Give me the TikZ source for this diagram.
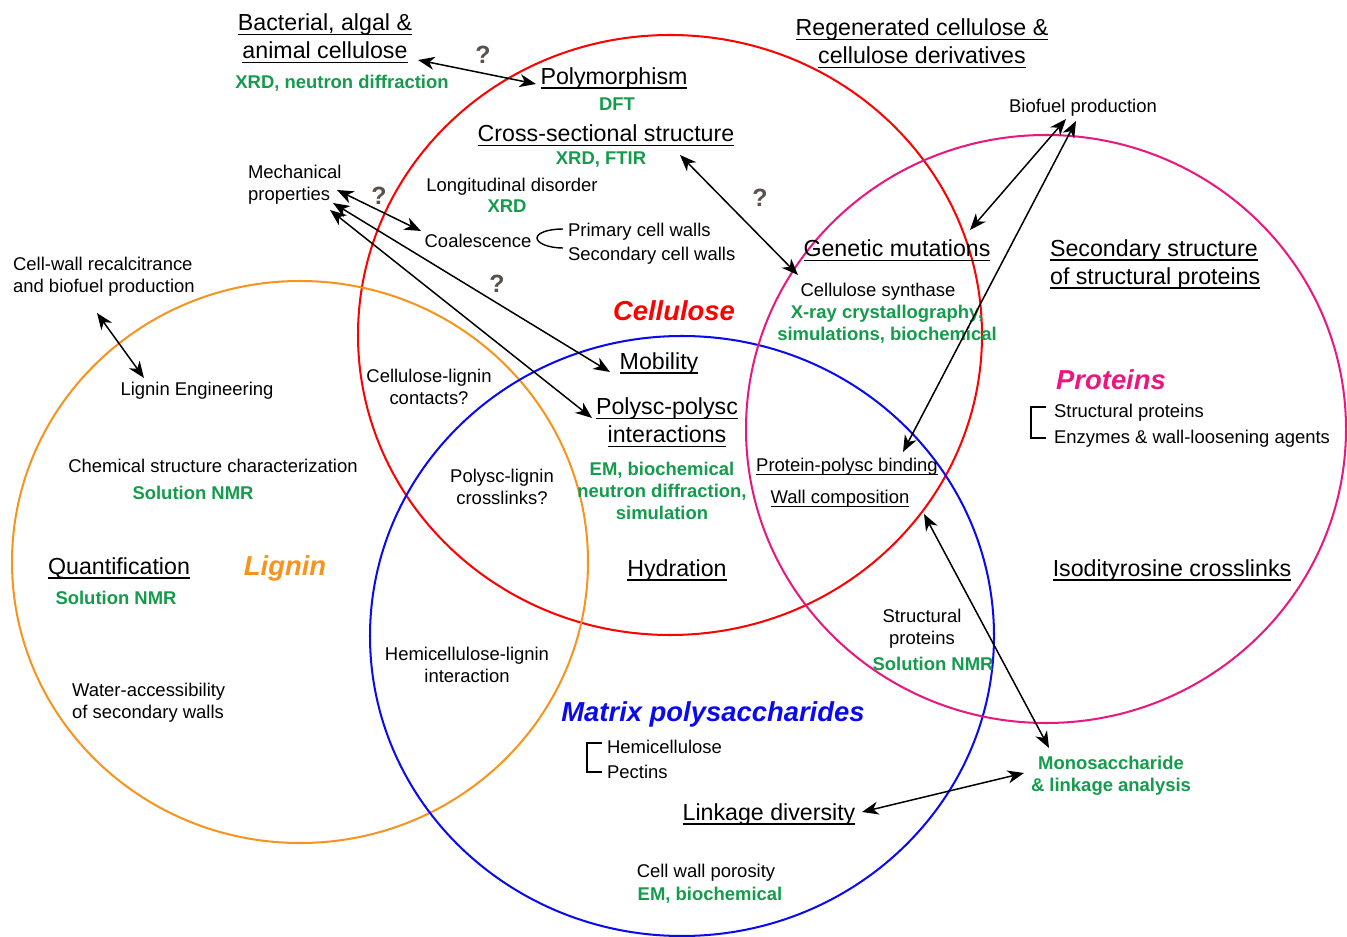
\documentclass[tikz,border=0pt]{standalone}
\usepackage{fontspec}
\setmainfont{Liberation Sans}
\usetikzlibrary{arrows.meta,calc}
\definecolor{cellred}{RGB}{255,0,0}
\definecolor{ligorange}{RGB}{247,148,29}
\definecolor{matblue}{RGB}{10,10,240}
\definecolor{protmag}{RGB}{232,24,128}
\definecolor{techgreen}{RGB}{20,155,75}
\definecolor{qgray}{RGB}{90,80,75}
\newcommand{\uln}[1]{\leavevmode\setbox0\hbox{#1}\rlap{\rule[-2.3pt]{\wd0}{0.75pt}}\box0}

\begin{document}
\begin{tikzpicture}[x=0.2mm, y=-0.2mm,
        lbl/.style={font=\fontsize{10.5}{12.5}\selectfont, align=center, inner sep=1pt, yshift=-0.5mm},
        hd/.style={font=\fontsize{13.2}{15.9}\selectfont, align=center, inner sep=1pt, yshift=-0.5mm},
        tech/.style={font=\fontsize{10.5}{12.5}\selectfont\bfseries, text=techgreen, align=center, inner sep=1pt, yshift=-0.5mm},
        cat/.style={font=\fontsize{15.6}{18}\selectfont\bfseries\itshape, inner sep=1pt, yshift=-0.3mm},
        qmark/.style={font=\fontsize{14.2}{16}\selectfont\bfseries, text=qgray, inner sep=1pt},
        dbl/.style={{Stealth[length=3.3mm,width=2.6mm,inset=1mm]}-{Stealth[length=3.3mm,width=2.6mm,inset=1mm]}, line width=0.85pt},
        ring/.style={line width=1.15pt}]
        \useasboundingbox (0,0) rectangle (1347,937);
        % the four components
        \foreach \cx/\cy/\rx/\ry/\col in {670/335/312/300/cellred, 300/562/288/281/ligorange, 682/636/312/300/matblue, 1046/429/300/294/protmag}
        \draw[ring, \col] (\cx,\cy) ellipse [x radius=\rx, y radius=\ry];
        % top
        \node[hd] (bact) at (325,36) {\uln{Bacterial, algal \&}\\\uln{animal cellulose}};
        \node[tech] (bactm) at (342,81) {XRD, neutron diffraction};
        \node[qmark] (q1) at (483,55) {?};
        \node[hd] (poly) at (614,76) {\uln{Polymorphism}};
        \node[tech] (polym) at (617,102) {DFT};
        \node[hd] (cross) at (606,133) {\uln{Cross-sectional structure}};
        \node[tech] (crossm) at (601,157) {XRD, FTIR};
        \node[hd] (regen) at (922,41) {\uln{Regenerated cellulose \&}\\\uln{cellulose derivatives}};
        \node[lbl] (bio) at (1083,105) {Biofuel production};
        % cellulose
        \node[lbl, align=left, anchor=west] (mech) at (246,182) {Mechanical\\properties};
        \node[qmark] (q2) at (379,196) {?};
        \node[lbl] (longi) at (512,184) {Longitudinal disorder};
        \node[tech] (longim) at (507,204) {XRD};
        \node[lbl] (coal) at (478,238) {Coalescence};
        \node[lbl, anchor=west] (prim) at (566,229) {Primary cell walls};
        \node[lbl, anchor=west] (secw) at (566,253) {Secondary cell walls};
        \draw[line width=0.8pt] (563,229) .. controls (548,229) and (537,233) .. (537,238) .. controls (537,243) and (548,248) .. (563,248);
        \node[qmark] (q3) at (497,284) {?};
        \node[qmark] (q4) at (760,198) {?};
        \node[hd] (gen) at (897,248) {\uln{Genetic mutations}};
        \node[lbl] (synth) at (878,289) {Cellulose synthase};
        \node[tech] (synthm) at (887,322) {X-ray crystallography,\\simulations, biochemical};
        \node[cat, text=cellred] (cell) at (674,309) {Cellulose};
        \node[lbl] (clc) at (429,384) {Cellulose-lignin\\contacts?};
        \node[hd] (mob) at (659,361) {\uln{Mobility}};
        \node[hd] (pp) at (667,420) {\uln{Polysc-polysc}\\\uln{interactions}};
        \node[tech] (ppm) at (662,488) {EM, biochemical\\neutron diffraction,\\simulation};
        \node[lbl] (plc) at (502,484) {Polysc-lignin\\crosslinks?};
        \node[hd] (hydr) at (677,568) {\uln{Hydration}};
        % proteins
        \node[hd, align=left, anchor=west] (secstr) at (1048,262) {\uln{Secondary structure}\\\uln{of structural proteins}};
        \node[cat, text=protmag] (prot) at (1111,378) {Proteins};
        \node[lbl, anchor=west] (sprot) at (1052,410) {Structural proteins};
        \node[lbl, anchor=west] (enz) at (1052,436) {Enzymes \& wall-loosening agents};
        \draw[line width=0.8pt] (1046,407) -- (1031,407) -- (1031,438) -- (1046,438);
        \node[lbl] (ppb) at (847,464) {\uln{Protein-polysc binding}};
        \node[lbl] (wallc) at (840,496) {\uln{Wall composition}};
        \node[hd] (iso) at (1172,568) {\uln{Isodityrosine crosslinks}};
        \node[lbl] (strp) at (922,626) {Structural\\proteins};
        \node[tech] (strpm) at (933,661) {Solution NMR};
        % lignin
        \node[lbl, align=left, anchor=west] (recal) at (11,274) {Cell-wall recalcitrance\\and biofuel production};
        \node[lbl] (ligeng) at (197,388) {Lignin Engineering};
        \node[lbl] (chem) at (213,463) {Chemical structure characterization};
        \node[tech] (chemm) at (193,490) {Solution NMR};
        \node[hd] (quant) at (119,566) {\uln{Quantification}};
        \node[tech] (quantm) at (116,595) {Solution NMR};
        \node[cat, text=ligorange] (lig) at (285,567) {Lignin};
        \node[lbl, align=left, anchor=west] (water) at (70,700) {Water-accessibility\\of secondary walls};
        % matrix polysaccharides
        \node[lbl] (hemil) at (467,662) {Hemicellulose-lignin\\interaction};
        \node[cat, text=matblue] (mat) at (713,713) {Matrix polysaccharides};
        \node[lbl, anchor=west] (hemi) at (605,744) {Hemicellulose};
        \node[lbl, anchor=west] (pect) at (605,769) {Pectins};
        \draw[line width=0.8pt] (602,743) -- (587,743) -- (587,772) -- (602,772);
        \node[hd] (link) at (769,812) {\uln{Linkage diversity}};
        \node[lbl] (poro) at (706,870) {Cell wall porosity};
        \node[tech] (porom) at (710,893) {EM, biochemical};
        \node[tech] (mono) at (1111,773) {Monosaccharide\\\& linkage analysis};
        % arrows
        \draw[dbl] ($(bact)+(93,21.5)$) -- ($(poly)+(-78,5.5)$);
        \draw[dbl] ($(mech.west)+(91,5.5)$) -- ($(coal)+(-57,-9.5)$);
        \draw[dbl] ($(mech.west)+(87,18.5)$) -- ($(mob)+(-49,8.5)$);
        \draw[dbl] ($(mech.west)+(84,25.5)$) -- ($(pp)+(-75,-4.5)$);
        \draw[dbl] ($(cross)+(74,19.5)$) -- ($(synth)+(-80,-16.5)$);
        \draw[dbl] ($(bio)+(-17,11.5)$) -- ($(gen)+(73,-20.5)$);
        \draw[dbl] ($(bio)+(-7,13.5)$) -- ($(ppb)+(56,-14.5)$);
        \draw[dbl] ($(wallc)+(84,15.5)$) -- ($(mono)+(-62,-27.5)$);
        \draw[dbl] ($(link)+(93,-2.5)$) -- ($(mono)+(-87,-2.5)$);
        \draw[dbl] ($(recal.west)+(86,36.5)$) -- ($(ligeng)+(-53,-12.5)$);
\end{tikzpicture}
\end{document}
